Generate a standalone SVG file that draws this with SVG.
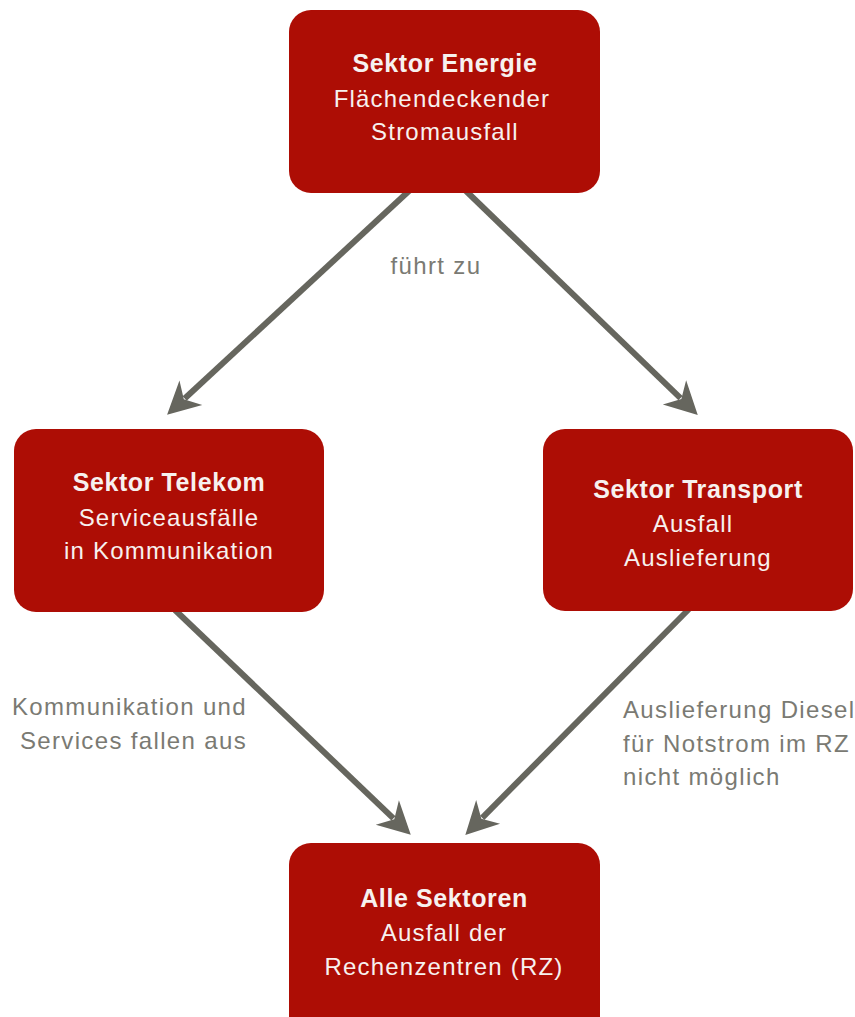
<svg xmlns="http://www.w3.org/2000/svg" width="855" height="1017" viewBox="0 0 855 1017">
<style>
.box{fill:#ad0d05}
.t{font-family:"Liberation Sans",Arial,sans-serif;fill:#f7f1ef;text-anchor:middle}
.b{font-size:25px;font-weight:bold;letter-spacing:0.6px}
.n{font-size:24px;letter-spacing:1.2px}
.lbl{font-family:"Liberation Sans",Arial,sans-serif;font-size:24px;letter-spacing:1.35px;fill:#7a7a73}
.c{stroke:#66665e;stroke-width:6;fill:none;marker-end:url(#ah)}
</style>
<defs>
<marker id="ah" markerUnits="userSpaceOnUse" orient="auto" refX="0" refY="0" markerWidth="60" markerHeight="60" viewBox="-20 -20 50 40" overflow="visible">
<path d="M20,0 L-7,-14 L1,0 L-7,14 Z" fill="#66665e"/>
</marker>
</defs>
<g id="connectors">
<line class="c" x1="410" y1="190" x2="184.7" y2="398.5"/>
<line class="c" x1="465" y1="190" x2="680.5" y2="398.2"/>
<line class="c" x1="175" y1="610" x2="393.4" y2="818.3"/>
<line class="c" x1="690" y1="608" x2="482.2" y2="817.9"/>
</g>
<g id="node-energie">
<rect class="box" x="289" y="10" width="311" height="183" rx="22"/>
<text class="t b" x="445" y="72">Sektor Energie</text>
<text class="t n" x="442" y="107">Flächendeckender</text>
<text class="t n" x="445" y="140">Stromausfall</text>
</g>
<g id="node-telekom">
<rect class="box" x="14" y="429" width="310" height="183" rx="22"/>
<text class="t b" x="169" y="491">Sektor Telekom</text>
<text class="t n" x="169" y="526">Serviceausfälle</text>
<text class="t n" x="169" y="559">in Kommunikation</text>
</g>
<g id="node-transport">
<rect class="box" x="543" y="429" width="310" height="182" rx="22"/>
<text class="t b" x="698" y="498">Sektor Transport</text>
<text class="t n" x="693" y="532">Ausfall</text>
<text class="t n" x="698" y="566">Auslieferung</text>
</g>
<g id="node-alle">
<rect class="box" x="289" y="843" width="311" height="200" rx="22"/>
<text class="t b" x="444" y="907">Alle Sektoren</text>
<text class="t n" x="444" y="941">Ausfall der</text>
<text class="t n" x="444" y="975">Rechenzentren (RZ)</text>
</g>
<g id="labels">
<text class="lbl" x="436" y="274" text-anchor="middle">führt zu</text>
<text class="lbl" x="247" y="715" text-anchor="end">Kommunikation und</text>
<text class="lbl" x="247" y="749" text-anchor="end">Services fallen aus</text>
<text class="lbl" x="623" y="718">Auslieferung Diesel</text>
<text class="lbl" x="623" y="752">für Notstrom im RZ</text>
<text class="lbl" x="623" y="785">nicht möglich</text>
</g>
</svg>
